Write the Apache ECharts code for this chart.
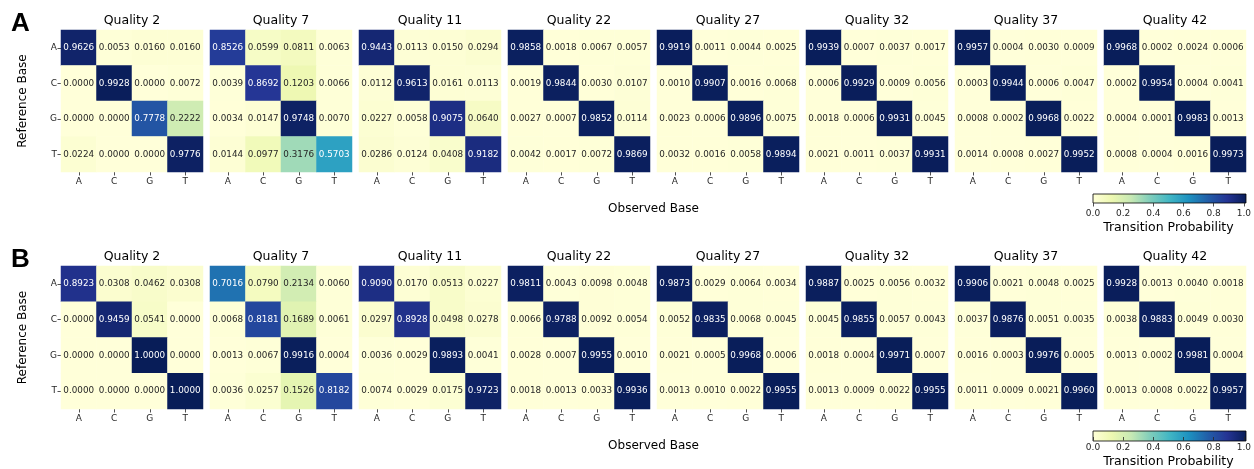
<!DOCTYPE html>
<html>
<head>
<meta charset="utf-8">
<script src="https://cdn.jsdelivr.net/npm/echarts@6/dist/echarts.min.js"></script>
<style>
  html, body { margin: 0; padding: 0; background: #fff; }
  #chart { width: 1254px; height: 469px; }
</style>
</head>
<body>
<div id="chart"></div>
<script>
// bases and quality bins
var bases = ['A', 'C', 'G', 'T'];
var qualities = [2, 7, 11, 22, 27, 32, 37, 42];
var cbarTicks = [0.0, 0.2, 0.4, 0.6, 0.8, 1.0];

// panel A: rows = reference base, cols = observed base
var probsA = [
  [[0.9626,0.0053,0.0160,0.0160],[0.0000,0.9928,0.0000,0.0072],[0.0000,0.0000,0.7778,0.2222],[0.0224,0.0000,0.0000,0.9776]],
  [[0.8526,0.0599,0.0811,0.0063],[0.0039,0.8692,0.1203,0.0066],[0.0034,0.0147,0.9748,0.0070],[0.0144,0.0977,0.3176,0.5703]],
  [[0.9443,0.0113,0.0150,0.0294],[0.0112,0.9613,0.0161,0.0113],[0.0227,0.0058,0.9075,0.0640],[0.0286,0.0124,0.0408,0.9182]],
  [[0.9858,0.0018,0.0067,0.0057],[0.0019,0.9844,0.0030,0.0107],[0.0027,0.0007,0.9852,0.0114],[0.0042,0.0017,0.0072,0.9869]],
  [[0.9919,0.0011,0.0044,0.0025],[0.0010,0.9907,0.0016,0.0068],[0.0023,0.0006,0.9896,0.0075],[0.0032,0.0016,0.0058,0.9894]],
  [[0.9939,0.0007,0.0037,0.0017],[0.0006,0.9929,0.0009,0.0056],[0.0018,0.0006,0.9931,0.0045],[0.0021,0.0011,0.0037,0.9931]],
  [[0.9957,0.0004,0.0030,0.0009],[0.0003,0.9944,0.0006,0.0047],[0.0008,0.0002,0.9968,0.0022],[0.0014,0.0008,0.0027,0.9952]],
  [[0.9968,0.0002,0.0024,0.0006],[0.0002,0.9954,0.0004,0.0041],[0.0004,0.0001,0.9983,0.0013],[0.0008,0.0004,0.0016,0.9973]]
];

// panel B
var probsB = [
  [[0.8923,0.0308,0.0462,0.0308],[0.0000,0.9459,0.0541,0.0000],[0.0000,0.0000,1.0000,0.0000],[0.0000,0.0000,0.0000,1.0000]],
  [[0.7016,0.0790,0.2134,0.0060],[0.0068,0.8181,0.1689,0.0061],[0.0013,0.0067,0.9916,0.0004],[0.0036,0.0257,0.1526,0.8182]],
  [[0.9090,0.0170,0.0513,0.0227],[0.0297,0.8928,0.0498,0.0278],[0.0036,0.0029,0.9893,0.0041],[0.0074,0.0029,0.0175,0.9723]],
  [[0.9811,0.0043,0.0098,0.0048],[0.0066,0.9788,0.0092,0.0054],[0.0028,0.0007,0.9955,0.0010],[0.0018,0.0013,0.0033,0.9936]],
  [[0.9873,0.0029,0.0064,0.0034],[0.0052,0.9835,0.0068,0.0045],[0.0021,0.0005,0.9968,0.0006],[0.0013,0.0010,0.0022,0.9955]],
  [[0.9887,0.0025,0.0056,0.0032],[0.0045,0.9855,0.0057,0.0043],[0.0018,0.0004,0.9971,0.0007],[0.0013,0.0009,0.0022,0.9955]],
  [[0.9906,0.0021,0.0048,0.0025],[0.0037,0.9876,0.0051,0.0035],[0.0016,0.0003,0.9976,0.0005],[0.0011,0.0009,0.0021,0.9960]],
  [[0.9928,0.0013,0.0040,0.0018],[0.0038,0.9883,0.0049,0.0030],[0.0013,0.0002,0.9981,0.0004],[0.0013,0.0008,0.0022,0.9957]]
];

var ylgnbu = ['#ffffd9','#edf8b1','#c7e9b4','#7fcdbb','#41b6c4','#1d91c0','#225ea8','#253494','#081d58'];
var FONT = 'DejaVu Sans';
var INK = '#262626';

var panels = [
  { letter: 'A', probs: probsA, top: 30, h: 142, titleY: 21, obsY: 209, cbarY: 194, cbarH: 9 },
  { letter: 'B', probs: probsB, top: 266, h: 143, titleY: 257, obsY: 446, cbarY: 431, cbarH: 10 }
];

var gx0 = 61, gstep = 149, gw = 142;
var cbX = 1093, cbW = 153;

var grids = [], xAxes = [], yAxes = [], series = [], graphics = [];

panels.forEach(function (p, pi) {
  qualities.forEach(function (q, qi) {
    var left = gx0 + gstep * qi;
    grids.push({ left: left, top: p.top, width: gw, height: p.h });
    var idx = grids.length - 1;
    xAxes.push({
      gridIndex: idx, type: 'category', data: bases, position: 'bottom',
      axisLine: { show: false },
      axisTick: { show: true, alignWithLabel: true, length: 3.5, lineStyle: { color: INK, width: 0.8 } },
      axisLabel: { fontFamily: FONT, fontSize: 9, color: INK, margin: 5 },
      splitArea: { show: false }
    });
    yAxes.push({
      gridIndex: idx, type: 'category', data: bases, inverse: true,
      axisLine: { show: false },
      axisTick: { show: qi === 0, alignWithLabel: true, length: 3.5, lineStyle: { color: INK, width: 0.8 } },
      axisLabel: { show: qi === 0, fontFamily: FONT, fontSize: 9, color: INK, margin: 4 },
      name: qi === 0 ? 'Reference Base' : '',
      nameLocation: 'middle', nameGap: 32, nameRotate: 90,
      nameTextStyle: { fontFamily: FONT, fontSize: 12, color: '#000' }
    });
    var data = [];
    p.probs[qi].forEach(function (row, r) {
      row.forEach(function (v, c) { data.push([c, r, v]); });
    });
    series.push({
      type: 'heatmap', xAxisIndex: idx, yAxisIndex: idx, data: data,
      label: {
        show: true,
        formatter: function (d) {
          var v = d.value[2];
          return (v > 0.45 ? '{w|' : '{d|') + v.toFixed(4) + '}';
        },
        rich: {
          w: { color: '#ffffff', fontFamily: FONT, fontSize: 8.8 },
          d: { color: INK, fontFamily: FONT, fontSize: 8.8 }
        }
      },
      emphasis: { disabled: true }
    });
    graphics.push({
      type: 'text', x: left + gw / 2, y: p.titleY,
      style: { text: 'Quality ' + q, align: 'center', verticalAlign: 'middle',
               font: '12.5px "DejaVu Sans"', fill: '#000' }
    });
  });

  // colorbar tick axis
  grids.push({ left: cbX, top: p.cbarY, width: cbW, height: p.cbarH });
  var ci = grids.length - 1;
  xAxes.push({
    gridIndex: ci, type: 'value', min: 0, max: 1, interval: 0.2,
    axisLine: { show: false }, splitLine: { show: false },
    axisTick: { show: true, length: 3.5, lineStyle: { color: INK, width: 0.8 } },
    axisLabel: { fontFamily: FONT, fontSize: 9, color: INK, margin: 6,
                 formatter: function (v) { return v.toFixed(1); } },
    name: 'Transition Probability', nameLocation: 'middle', nameGap: 18,
    nameTextStyle: { fontFamily: FONT, fontSize: 12.5, color: '#000' }
  });
  yAxes.push({ gridIndex: ci, type: 'value', show: false, min: 0, max: 1 });

  graphics.push({
    type: 'rect', shape: { x: cbX, y: p.cbarY, width: cbW, height: p.cbarH },
    style: {
      fill: {
        type: 'linear', x: 0, y: 0, x2: 1, y2: 0,
        colorStops: ylgnbu.map(function (c, i) { return { offset: i / (ylgnbu.length - 1), color: c }; })
      },
      stroke: '#000', lineWidth: 0.8
    }
  });
  graphics.push({
    type: 'text', x: gx0 + (gstep * 7 + gw) / 2, y: p.obsY,
    style: { text: 'Observed Base', align: 'center', verticalAlign: 'middle',
             font: '12px "DejaVu Sans"', fill: '#000' }
  });
  graphics.push({
    type: 'text', x: 11, y: p.titleY + 3,
    style: { text: p.letter, align: 'left', verticalAlign: 'middle',
             font: 'bold 26px "Liberation Sans"', fill: '#000' }
  });
});

var chart = echarts.init(document.getElementById('chart'), null, { renderer: 'canvas' });
chart.setOption({
  animation: false,
  backgroundColor: '#fff',
  grid: grids,
  xAxis: xAxes,
  yAxis: yAxes,
  visualMap: {
    show: false, min: 0, max: 1,
    seriesIndex: series.map(function (s, i) { return i; }),
    inRange: { color: ylgnbu }
  },
  series: series,
  graphic: graphics
});
</script>
</body>
</html>
